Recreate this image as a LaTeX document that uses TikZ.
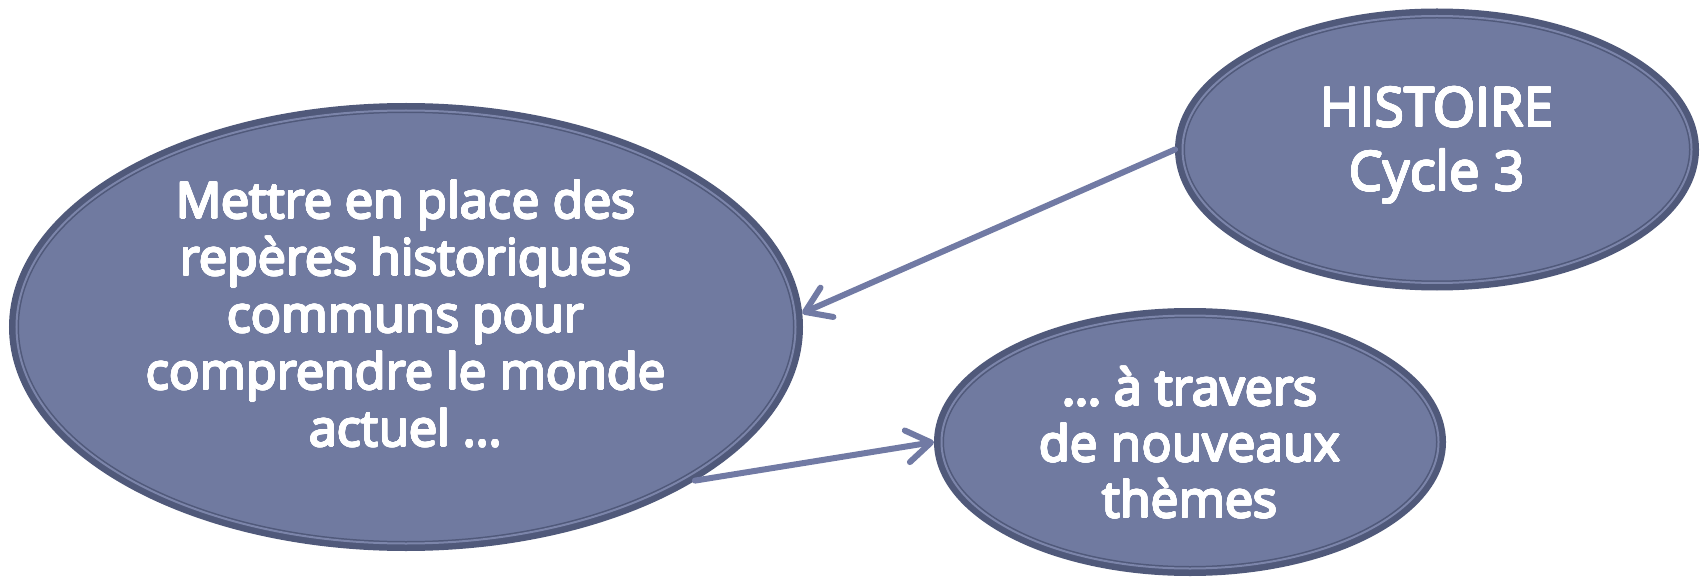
\documentclass[tikz,border=0pt]{standalone}
\usepackage{fontspec}
\setmainfont{Open Sans}
\usepackage{contour}
\contourlength{0.8pt}
\contournumber{24}
\newcommand{\wt}[1]{\contour{white}{#1}}
\usetikzlibrary{shapes.geometric,arrows.meta}
\definecolor{fillc}{RGB}{112,122,160}
\definecolor{darkc}{RGB}{80,89,122}
\definecolor{lightc}{RGB}{124,133,170}
\definecolor{arrowc}{RGB}{113,122,164}
\begin{document}
\begin{tikzpicture}[x=1pt,y=1pt,
  bubble/.style={ellipse, draw=darkc, fill=fillc, line width=10pt, inner sep=0pt},
  ring/.style={draw=lightc, line width=2pt},
  btext/.style={text=white, align=center, font=\fontsize{50}{57}\selectfont},
  conn/.style={draw=arrowc, line width=6pt, line cap=round, line join=round,
    -{Straight Barb[length=24pt,width=32pt,line cap=round,line join=round]}}]
\useasboundingbox (0,0) rectangle (1708,-580);
% ellipses
\node[bubble, minimum width=784pt, minimum height=438pt] (big) at (406,-327) {};
\node[bubble, minimum width=514pt, minimum height=272pt] (hist) at (1437,-149.5) {};
\node[bubble, minimum width=502pt, minimum height=258pt] (bot) at (1190,-442) {};
\draw[ring] (big.center) ellipse [x radius=389.5, y radius=216.5];
\draw[ring] (hist.center) ellipse [x radius=254.5, y radius=133.5];
\draw[ring] (bot.center) ellipse [x radius=248.5, y radius=126.5];
% texts
\node[btext] (tbig) at (406,-314) {\wt{Mettre en place des}\\\wt{repères historiques}\\\wt{communs pour}\\\wt{comprendre le monde}\\\wt{actuel …}};
\node[btext, font=\fontsize{54}{64}\selectfont] (thist) at (1437,-146) {\wt{HISTOIRE}\\\wt{Cycle 3}};
\node[btext, font=\fontsize{50}{56}\selectfont] (tbot) at (1190,-443) {\wt{… à travers}\\\wt{de nouveaux}\\\wt{thèmes}};
% connectors
\draw[conn] (hist.west) -- (big.2);
\draw[conn] (big.-28) -- (bot.west);
\end{tikzpicture}
\end{document}
